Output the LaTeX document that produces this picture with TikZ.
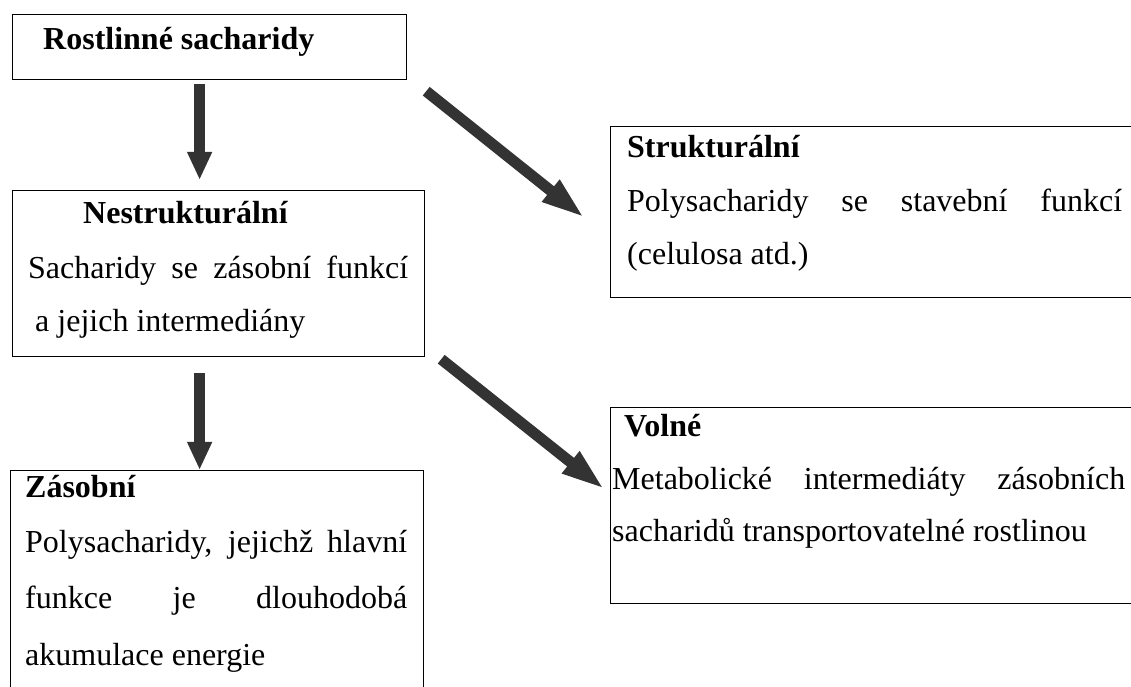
\documentclass[tikz,border=0pt]{standalone}
\usepackage{fontspec}
\setmainfont{Liberation Serif}
\usetikzlibrary{arrows.meta}
\definecolor{arrowgray}{HTML}{333333}
\tikzset{
  box/.style={draw=black,line width=1.2bp,anchor=north west,inner sep=0pt},
  txt/.style={anchor=base west,inner sep=0pt},
  downarrow/.style={draw=arrowgray,line width=11bp,-{Triangle[width=23bp,length=28bp]}},
  slantarrow/.style={draw=arrowgray,line width=11bp,-{Triangle[width=25bp,length=44bp]}},
}
\begin{document}
\begin{tikzpicture}[font=\fontsize{32bp}{38bp}\selectfont]
\useasboundingbox (0bp,0bp) rectangle (1131bp,687bp);
\clip (0bp,0bp) rectangle (1131bp,687bp);
%%
\node (root) at (12bp,673bp) [box,minimum width=394bp,minimum height=65bp] {};
  \node (nonstr) at (12bp,497bp) [box,minimum width=412bp,minimum height=166bp] {};
  \node (storage) at (10bp,217bp) [box,minimum width=413bp,minimum height=240bp] {};
  \node (struct) at (610bp,561bp) [box,minimum width=560bp,minimum height=171bp] {};
  \node (free) at (610bp,280bp) [box,minimum width=560bp,minimum height=196bp] {};
%
\node (root_t) at (43bp,637bp) [txt] {\bfseries Rostlinné sacharidy};
  \node (nonstr_t) at (83bp,463bp) [txt] {\bfseries Nestrukturální};
  \node (nonstr_1) at (28bp,408bp) [txt] {\makebox[380bp][s]{Sacharidy se zásobní funkcí}};
  \node (nonstr_2) at (35bp,355bp) [txt] {a jejich intermediány};
  \node (storage_t) at (25bp,189bp) [txt] {\bfseries Zásobní};
  \node (storage_1) at (25bp,134bp) [txt] {\makebox[382bp][s]{Polysacharidy, jejichž hlavní}};
  \node (storage_2) at (25bp,78bp) [txt] {\makebox[382bp][s]{funkce je dlouhodobá}};
  \node (storage_3) at (25bp,22bp) [txt] {akumulace energie};
  \node (struct_t) at (627bp,529bp) [txt] {\bfseries Strukturální};
  \node (struct_1) at (627bp,475bp) [txt] {\makebox[495bp][s]{Polysacharidy se stavební funkcí}};
  \node (struct_2) at (627bp,422bp) [txt] {(celulosa atd.)};
  \node (free_t) at (624bp,250bp) [txt] {\bfseries Volné};
  \node (free_1) at (612bp,197bp) [txt] {\makebox[513bp][s]{Metabolické intermediáty zásobních}};
  \node (free_2) at (612bp,145bp) [txt] {sacharidů transportovatelné rostlinou};
%
\draw [downarrow] ([xshift=-10bp,yshift=-4bp]root.south) -- ([xshift=-19bp,yshift=10bp]nonstr.north);
  \draw [downarrow] ([xshift=-19bp,yshift=-16bp]nonstr.south) -- ([xshift=-17.5bp]storage.north);
  \draw [slantarrow] ([shift={(19bp,-11bp)}]root.south east) -- ([shift={(-25bp,-6bp)}]struct.west);
  \draw [slantarrow] ([shift={(16bp,-2bp)}]nonstr.south east) -- ([shift={(-5bp,16bp)}]free.west);
%
\end{tikzpicture}
\end{document}
